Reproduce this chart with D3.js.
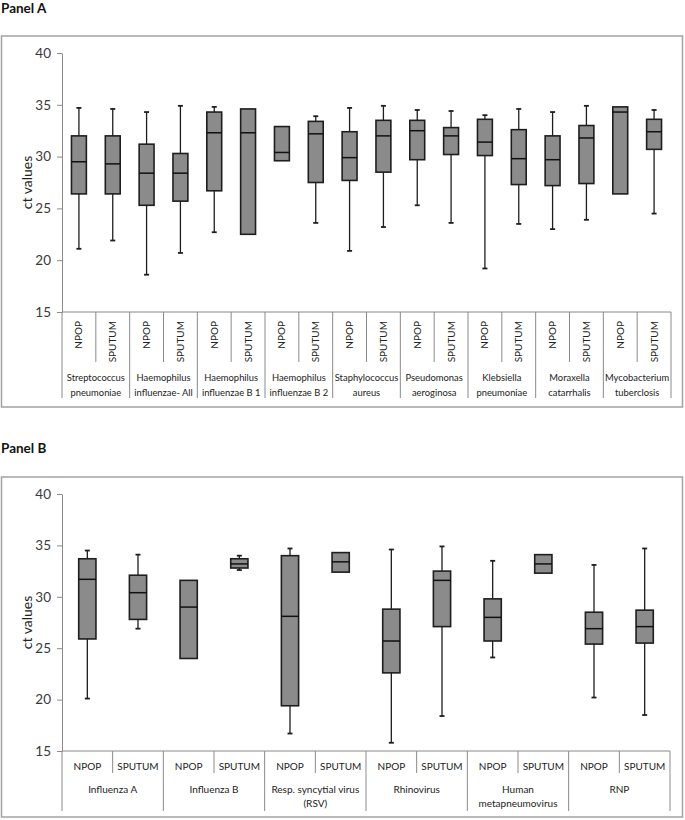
<!DOCTYPE html>
<html>
<head>
<meta charset="utf-8">
<script src="https://cdn.jsdelivr.net/npm/d3@7"></script>
<style>
  html, body { margin: 0; padding: 0; background: #fff; }
  svg { display: block; }
</style>
</head>
<body>
<svg id="chart" width="685" height="820"></svg>
<script>
// ---------------- DATA ----------------
const yTicks = [15, 20, 25, 30, 35, 40];
const subLabels = ["NPOP", "SPUTUM"];

// Panel A
const groupsA = [
  ["Streptococcus", "pneumoniae"],
  ["Haemophilus", "influenzae- All"],
  ["Haemophilus", "influenzae B 1"],
  ["Haemophilus", "influenzae B 2"],
  ["Staphylococcus", "aureus"],
  ["Pseudomonas", "aeroginosa"],
  ["Klebsiella", "pneumoniae"],
  ["Moraxella", "catarrhalis"],
  ["Mycobacterium", "tuberclosis"]
];
const minA = [21.1, 21.9, 18.6, 20.7, 22.7, 22.5, 29.6, 23.6, 20.9, 23.2, 25.3, 23.6, 19.2, 23.5, 23.0, 23.9, 26.4, 24.5];
const q1A  = [26.4, 26.4, 25.3, 25.7, 26.7, 22.5, 29.6, 27.5, 27.7, 28.5, 29.7, 30.2, 30.1, 27.3, 27.2, 27.4, 26.4, 30.7];
const medA = [29.5, 29.3, 28.4, 28.4, 32.3, 32.3, 30.4, 32.2, 29.9, 32.0, 32.5, 32.0, 31.4, 29.8, 29.7, 31.8, 34.3, 32.4];
const q3A  = [32.0, 32.0, 31.2, 30.3, 34.3, 34.6, 32.9, 33.4, 32.4, 33.5, 33.5, 32.8, 33.6, 32.6, 32.0, 33.0, 34.8, 33.6];
const maxA = [34.7, 34.6, 34.3, 34.9, 34.8, 34.6, 32.9, 33.9, 34.7, 34.9, 34.5, 34.4, 34.0, 34.6, 34.3, 34.9, 34.8, 34.5];

// Panel B
const groupsB = [
  ["Influenza A"],
  ["Influenza B"],
  ["Resp. syncytial virus", "(RSV)"],
  ["Rhinovirus"],
  ["Human", "metapneumovirus"],
  ["RNP"]
];
const minB = [20.1, 26.9, 24.0, 32.6, 16.7, 32.4, 15.8, 18.4, 24.1, 32.3, 20.2, 18.5];
const q1B  = [25.9, 27.8, 24.0, 32.8, 19.4, 32.4, 22.6, 27.1, 25.7, 32.3, 25.4, 25.5];
const medB = [31.7, 30.4, 29.0, 33.2, 28.1, 33.4, 25.7, 31.6, 28.0, 33.2, 26.9, 27.1];
const q3B  = [33.7, 32.1, 31.6, 33.7, 34.0, 34.3, 28.8, 32.5, 29.8, 34.1, 28.5, 28.7];
const maxB = [34.5, 34.1, 31.6, 34.0, 34.7, 34.3, 34.6, 34.9, 33.5, 34.1, 33.1, 34.7];

// ---------------- DRAW ----------------
const svg = d3.select("#chart");
const FONT = "Lato, 'Open Sans', sans-serif";
const boxFill = "#8b8b8b", boxStroke = "#1e1e1e", axisCol = "#8a8a8a", textCol = "#3a3a3a";

function panel(cfg) {
  const g = svg.append("g");
  // title
  g.append("text").attr("x", 1).attr("y", cfg.titleY)
    .attr("font-family", FONT).attr("font-weight", "bold").attr("font-size", 13.5)
    .attr("fill", "#111").text(cfg.title);
  // frame
  g.append("rect").attr("x", 1.5).attr("y", cfg.frameTop)
    .attr("width", 681).attr("height", cfg.frameBottom - cfg.frameTop)
    .attr("fill", "none").attr("stroke", "#a3a3a3").attr("stroke-width", 1.5);

  const y = d3.scaleLinear().domain([15, 40]).range([cfg.yBottom, cfg.yTop]);
  const n = cfg.groups.length * 2;
  const x = d3.scaleBand().domain(d3.range(n)).range([cfg.xLeft, cfg.xRight]).padding(0);
  const gx = d3.scaleBand().domain(d3.range(cfg.groups.length)).range([cfg.xLeft, cfg.xRight]).padding(0);

  // y axis
  const ya = g.append("g").attr("transform", `translate(${cfg.xLeft},0)`)
    .call(d3.axisLeft(y).tickValues(yTicks).tickSize(5).tickPadding(6).tickSizeOuter(0));
  ya.select(".domain").attr("stroke", axisCol);
  ya.selectAll(".tick line").attr("stroke", axisCol);
  ya.selectAll(".tick text").attr("font-family", FONT).attr("font-size", 13.5).attr("fill", textCol);

  // y label
  g.append("text")
    .attr("transform", `translate(${cfg.yLabelX},${(cfg.yTop + cfg.yBottom) / 2}) rotate(-90)`)
    .attr("text-anchor", "middle").attr("font-family", FONT).attr("font-size", 14)
    .attr("fill", "#222").text("ct values");

  // category axis line
  g.append("line").attr("x1", cfg.xLeft).attr("x2", cfg.xRight)
    .attr("y1", cfg.yBottom).attr("y2", cfg.yBottom).attr("stroke", axisCol).attr("stroke-width", 1);

  // inner separators (between NPOP and SPUTUM)
  g.selectAll(".inner").data(d3.range(cfg.groups.length)).join("line")
    .attr("x1", i => x(2 * i + 1)).attr("x2", i => x(2 * i + 1))
    .attr("y1", cfg.yBottom).attr("y2", cfg.innerSepEnd).attr("stroke", axisCol);
  // outer separators
  g.selectAll(".outer").data(d3.range(cfg.groups.length + 1)).join("line")
    .attr("x1", i => i < cfg.groups.length ? gx(i) : cfg.xRight)
    .attr("x2", i => i < cfg.groups.length ? gx(i) : cfg.xRight)
    .attr("y1", cfg.yBottom).attr("y2", cfg.outerSepEnd).attr("stroke", axisCol);

  // sub labels
  const subs = g.selectAll(".sub").data(d3.range(n)).join("text")
    .attr("font-family", FONT).attr("font-size", 10).attr("fill", "#222")
    .text(i => subLabels[i % 2]);
  if (cfg.rotateSub) {
    subs.attr("transform", i => `translate(${x(i) + x.bandwidth() / 2 + 3.5},${cfg.subY}) rotate(-90)`)
      .attr("text-anchor", "end");
  } else {
    subs.attr("x", i => x(i) + x.bandwidth() / 2).attr("y", cfg.subY)
      .attr("text-anchor", "middle").attr("dominant-baseline", "central");
  }
  // group labels
  cfg.groups.forEach((lines, gi) => {
    lines.forEach((ln, li) => {
      g.append("text").attr("x", gx(gi) + gx.bandwidth() / 2).attr("y", cfg.groupY + li * cfg.groupLH)
        .attr("text-anchor", "middle").attr("dominant-baseline", "central")
        .attr("font-family", FONT).attr("font-size", cfg.groupFS).attr("fill", "#222").text(ln);
    });
  });

  // boxes
  const bw = x.bandwidth() * cfg.boxFrac;
  const capW = 5;
  const d = d3.range(n).map(i => ({ i, min: cfg.min[i], q1: cfg.q1[i], med: cfg.med[i], q3: cfg.q3[i], max: cfg.max[i] }));
  const bg = g.selectAll(".box").data(d).join("g")
    .attr("transform", b => `translate(${x(b.i) + x.bandwidth() / 2},0)`);
  // whiskers
  bg.filter(b => b.max > b.q3).append("line").attr("x1", 0).attr("x2", 0)
    .attr("y1", b => y(b.max)).attr("y2", b => y(b.q3)).attr("stroke", boxStroke).attr("stroke-width", 1.3);
  bg.filter(b => b.max > b.q3).append("line").attr("x1", -capW / 2).attr("x2", capW / 2)
    .attr("y1", b => y(b.max)).attr("y2", b => y(b.max)).attr("stroke", boxStroke).attr("stroke-width", 1.8);
  bg.filter(b => b.min < b.q1).append("line").attr("x1", 0).attr("x2", 0)
    .attr("y1", b => y(b.q1)).attr("y2", b => y(b.min)).attr("stroke", boxStroke).attr("stroke-width", 1.3);
  bg.filter(b => b.min < b.q1).append("line").attr("x1", -capW / 2).attr("x2", capW / 2)
    .attr("y1", b => y(b.min)).attr("y2", b => y(b.min)).attr("stroke", boxStroke).attr("stroke-width", 1.8);
  // box
  bg.append("rect").attr("x", -bw / 2).attr("width", bw)
    .attr("y", b => y(b.q3)).attr("height", b => y(b.q1) - y(b.q3))
    .attr("fill", boxFill).attr("stroke", boxStroke).attr("stroke-width", 1.6);
  // median
  bg.append("line").attr("x1", -bw / 2).attr("x2", bw / 2)
    .attr("y1", b => y(b.med)).attr("y2", b => y(b.med)).attr("stroke", "#111").attr("stroke-width", 1.5);
}

panel({
  title: "Panel A", titleY: 13,
  frameTop: 36, frameBottom: 407,
  yTop: 53, yBottom: 312, xLeft: 62, xRight: 671, yLabelX: 32,
  groups: groupsA, rotateSub: true, subY: 321,
  innerSepEnd: 362, outerSepEnd: 398, groupY: 377, groupLH: 15, groupFS: 9.4,
  boxFrac: 0.44,
  min: minA, q1: q1A, med: medA, q3: q3A, max: maxA
});

panel({
  title: "Panel B", titleY: 453,
  frameTop: 477, frameBottom: 817,
  yTop: 494, yBottom: 751, xLeft: 62, xRight: 670, yLabelX: 32,
  groups: groupsB, rotateSub: false, subY: 766,
  innerSepEnd: 773, outerSepEnd: 811, groupY: 789, groupLH: 14, groupFS: 10,
  boxFrac: 0.34,
  min: minB, q1: q1B, med: medB, q3: q3B, max: maxB
});
</script>
</body>
</html>
